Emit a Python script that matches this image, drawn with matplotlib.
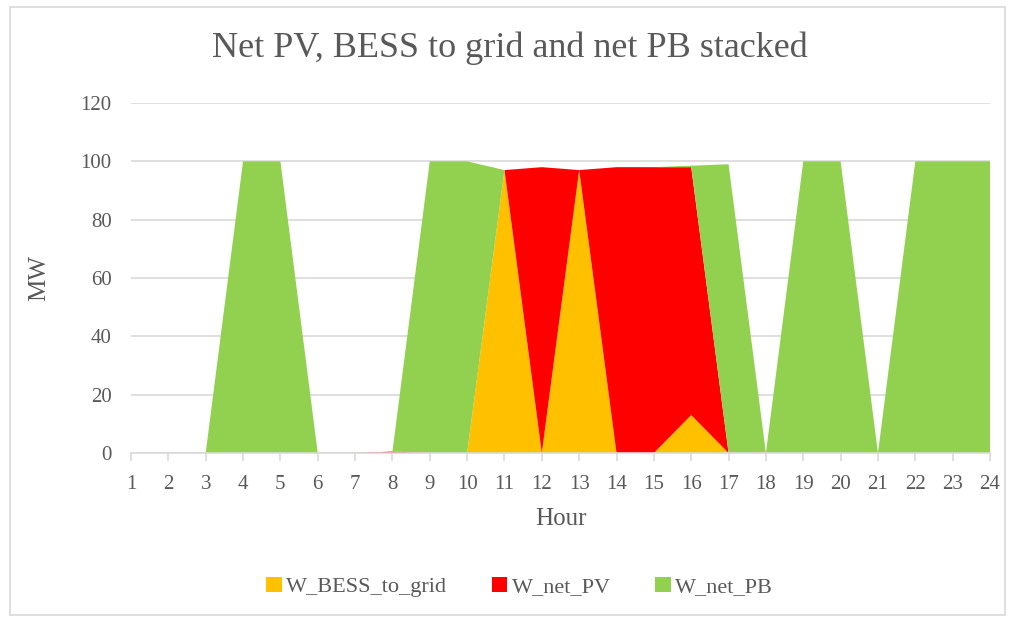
import matplotlib
matplotlib.use('Agg')
import matplotlib.pyplot as plt
import numpy as np
from matplotlib.patches import Rectangle

plt.rc('font', family=['Liberation Serif', 'DejaVu Serif'])

hours = list(range(1, 25))
w_bess_to_grid = [0, 0, 0, 0, 0, 0, 0, 0, 0, 0, 97, 0, 97, 0, 0, 13, 0, 0, 0, 0, 0, 0, 0, 0]
w_net_pv = [0, 0, 0, 0, 0, 0, 0, 0.5, 0, 0, 0, 98, 0, 98, 98, 85, 0, 0, 0, 0, 0, 0, 0, 0]
w_net_pb = [0, 0, 0, 100, 100, 0, 0, 0, 100, 100, 0, 0, 0, 0, 0, 0.5, 99, 0, 100, 100, 0, 100, 100, 100]

colors = ['#ffc000', '#ff0000', '#92d050']
labels = ['W_BESS_to_grid', 'W_net_PV', 'W_net_PB']
txt = '#595959'

fig = plt.figure(figsize=(10.19, 6.21), dpi=100)
ax = fig.add_axes([131 / 1019, 1 - 453 / 621, (990 - 131) / 1019, (453 - 103) / 621])

ax.stackplot(hours, w_bess_to_grid, w_net_pv, w_net_pb, colors=colors, labels=labels,
             linewidth=0, zorder=2)

ax.set_xlim(1, 24)
ax.set_ylim(0, 120)
ax.set_xticks(hours)
ax.set_yticks(range(0, 121, 20))
ax.grid(axis='y', color='#d9d9d9', linewidth=1.2, zorder=0)
ax.set_axisbelow(True)
for s in ['top', 'right', 'left']:
    ax.spines[s].set_visible(False)
ax.spines['bottom'].set_color('#d9d9d9')
ax.spines['bottom'].set_linewidth(1.2)
ax.spines['bottom'].set_zorder(3)
ax.tick_params(axis='x', colors='#d9d9d9', labelcolor=txt, labelsize=15, length=6, width=1.2, pad=10)
ax.tick_params(axis='y', length=0, labelcolor=txt, labelsize=15, pad=14)

ax.set_xlabel('Hour', fontsize=18, color=txt, labelpad=10)
ax.set_ylabel('MW', fontsize=18, color=txt, labelpad=22)
fig.suptitle('Net PV, BESS to grid and net PB stacked', fontsize=26, color=txt, y=0.95)

leg = fig.legend(loc='center', bbox_to_anchor=(0.51, 1 - 587 / 621), ncol=3, frameon=False,
                 fontsize=16, handlelength=0.7, handleheight=0.7, handletextpad=0.2,
                 columnspacing=2.0, labelcolor=txt)

fig.patches.append(Rectangle((10 / 1019, 6 / 621), 995 / 1019, 608 / 621, transform=fig.transFigure,
                             fill=False, edgecolor='#d9d9d9', linewidth=1.2))

fig.savefig('out.png', dpi=100)
